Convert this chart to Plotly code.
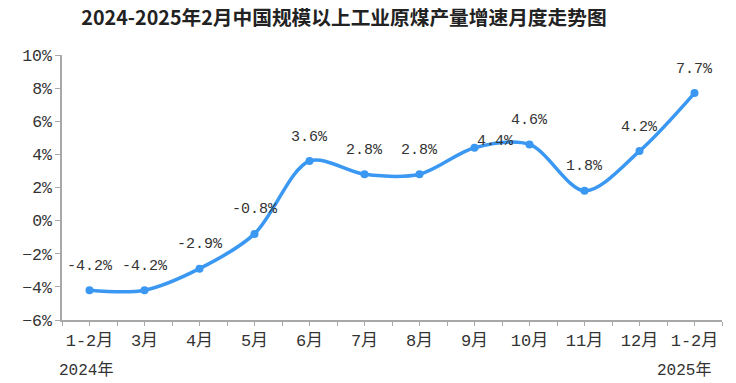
import plotly.graph_objects as go

months = ["1-2月", "3月", "4月", "5月", "6月", "7月", "8月", "9月", "10月", "11月", "12月", "1-2月"]
growth = [-4.2, -4.2, -2.9, -0.8, 3.6, 2.8, 2.8, 4.4, 4.6, 1.8, 4.2, 7.7]
labels = ["-4.2%", "-4.2%", "-2.9%", "-0.8%", "3.6%", "2.8%", "2.8%", "4.4%", "4.6%", "1.8%", "4.2%", "7.7%"]
years = ["2024年", "2025年"]
title = "2024-2025年2月中国规模以上工业原煤产量增速月度走势图"

idx = list(range(len(months)))
LINE = "#3A98F3"
AXIS = "#a8a8a8"
MONO = "Liberation Mono, Noto Sans CJK SC, monospace"

W, H = 736, 383
L, R, T, B = 62, 14, 55, 63
PW, PH = W - L - R, H - T - B

fig = go.Figure()
fig.add_trace(go.Scatter(
    x=idx, y=growth, mode="lines+markers",
    line=dict(color=LINE, width=3.5, shape="spline", smoothing=0.9),
    marker=dict(color=LINE, size=8),
    hoverinfo="skip", showlegend=False,
))

annots = []
for i, (v, t) in enumerate(zip(growth, labels)):
    xs, ys = 0, 24
    if i == 7:
        xs, ys = 21, 6
    annots.append(dict(x=i, y=v, xref="x", yref="y", text=t, showarrow=False,
                       xshift=xs, yshift=ys,
                       font=dict(family=MONO, size=15, color="#333333")))

annots.append(dict(x=(57 - L) / PW, y=(H - B - 370) / PH, xref="paper", yref="paper",
                   xanchor="left", yanchor="middle", text=years[0], showarrow=False,
                   font=dict(family=MONO, size=16, color="#333333")))
annots.append(dict(x=(713 - L) / PW, y=(H - B - 370) / PH, xref="paper", yref="paper",
                   xanchor="right", yanchor="middle", text=years[1], showarrow=False,
                   font=dict(family=MONO, size=16, color="#333333")))

fig.update_layout(
    width=W, height=H,
    margin=dict(l=L, r=R, t=T, b=B),
    paper_bgcolor="white", plot_bgcolor="white",
    title=dict(text="<b>" + title + "</b>", x=344 / W, xanchor="center", y=1 - 18 / H, yanchor="middle",
               yref="container", font=dict(family="Noto Sans CJK SC", size=19.7, color="#222222")),
    annotations=annots,
    xaxis=dict(range=[-0.5, 11.5], tickmode="array", tickvals=idx, ticktext=months, automargin=False,
               showgrid=False, zeroline=False, showline=True, linecolor=AXIS, linewidth=1.5,
               ticks="outside", ticklen=4, tickcolor=AXIS,
               minor=dict(tick0=-0.5, dtick=1, ticks="outside", ticklen=4, tickcolor=AXIS),
               tickfont=dict(family=MONO, size=17, color="#333333")),
    yaxis=dict(range=[-6, 10], dtick=2, tick0=-6, ticksuffix="%", showgrid=False, zeroline=False,
               automargin=False, showline=True, linecolor=AXIS, linewidth=1.5,
               ticks="outside", ticklen=5, tickcolor=AXIS,
               tickfont=dict(family=MONO, size=16.5, color="#333333")),
)
fig.write_html("out.html", config={"displayModeBar": False},
               post_script="document.body.style.margin='0';document.body.style.overflow='hidden';")
